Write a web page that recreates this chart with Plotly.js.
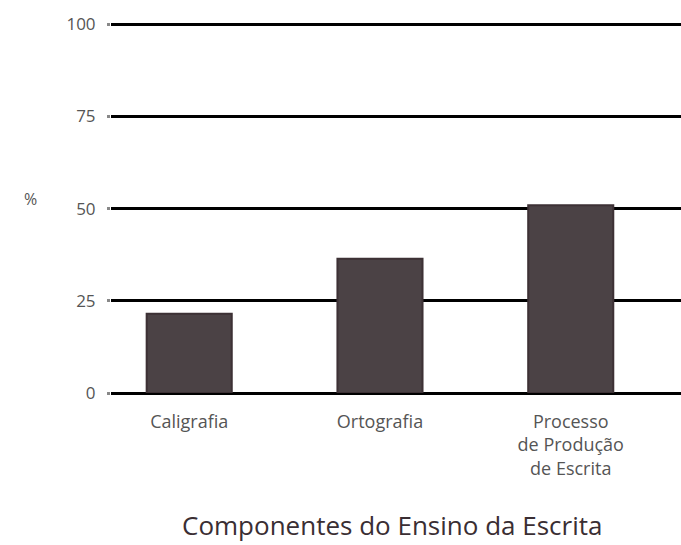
<!DOCTYPE html>
<html>
<head>
<meta charset="utf-8">
<script src="https://cdn.plot.ly/plotly-3.0.1.min.js"></script>
<style>html,body{margin:0;padding:0;background:#fff;}#chart{width:681px;height:545px;}</style>
</head>
<body>
<div id="chart"></div>
<script>
var categories = ["Caligrafia", "Ortografia", "Processo<br>de Produção<br>de Escrita"];
var values = [21.5, 36.4, 50.9];
var yTickVals = [0, 25, 50, 75, 100];
var yTickText = ["0", "25", "50", "75", "100"];
var xTitle = "Componentes do Ensino da Escrita";
var yTitle = "%";

var trace = {
  type: "bar",
  x: categories,
  y: values,
  width: 0.446,
  marker: {color: "#4b4245", line: {color: "#3d3135", width: 2}},
  hoverinfo: "x+y"
};

var layout = {
  width: 681, height: 545,
  margin: {l: 111, r: 0, t: 22, b: 152},
  paper_bgcolor: "#ffffff", plot_bgcolor: "#ffffff",
  showlegend: false,
  font: {family: "Open Sans, Noto Sans, sans-serif", color: "#555555"},
  xaxis: {
    type: "category",
    range: [-0.41, 2.578],
    showgrid: false, zeroline: false, showline: false,
    ticks: "",
    ticklabelstandoff: 16,
    tickfont: {size: 18, color: "#555555"},
    fixedrange: true
  },
  yaxis: {
    range: [0, 100.6],
    tickvals: yTickVals, ticktext: yTickText,
    showgrid: true, gridcolor: "#000000", gridwidth: 3,
    zeroline: true, zerolinecolor: "#000000", zerolinewidth: 3,
    ticks: "outside", ticklen: 3, tickwidth: 3, tickcolor: "#888888",
    ticklabelstandoff: 8,
    tickfont: {size: 17, color: "#555555"},
    showline: false,
    fixedrange: true
  },
  annotations: [{
    text: yTitle, xref: "paper", yref: "paper",
    x: -0.142, y: 0.523, xanchor: "center", yanchor: "middle",
    showarrow: false, font: {size: 16, color: "#555555"}
  }, {
    text: xTitle, xref: "paper", yref: "paper",
    x: 0.493, y: -0.355, xanchor: "center", yanchor: "middle",
    showarrow: false, font: {size: 26, color: "#3a2e33"}
  }]
};

Plotly.newPlot("chart", [trace], layout, {displayModeBar: false, staticPlot: true});
</script>
</body>
</html>
